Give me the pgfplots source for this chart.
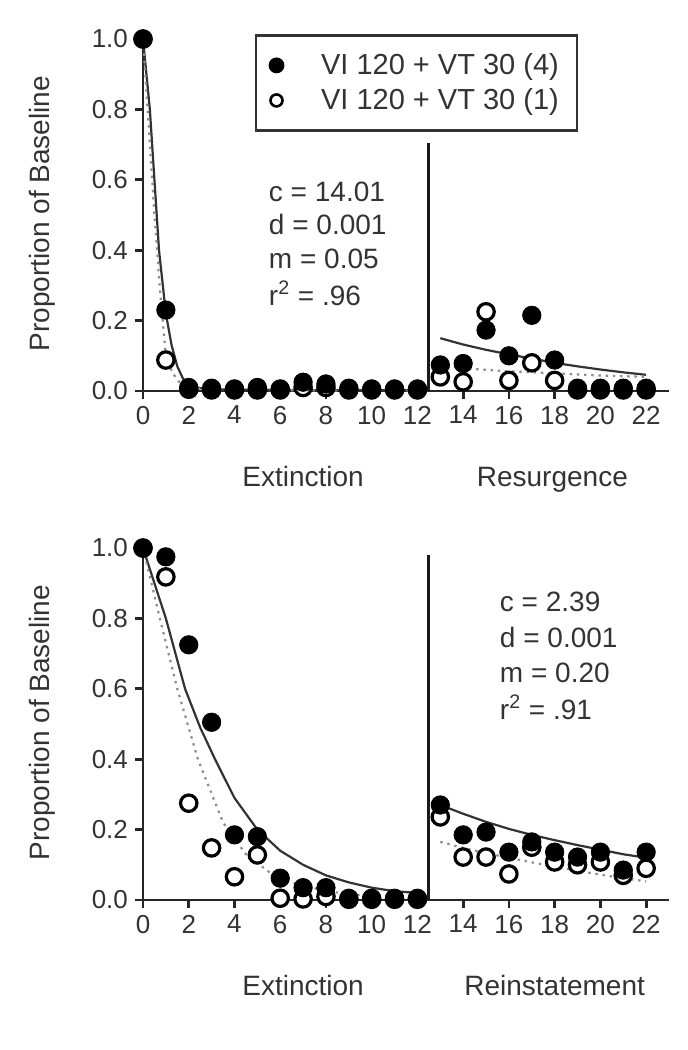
\documentclass[border=0pt]{standalone}
\usepackage{fontspec}
\setmainfont{Liberation Sans}
\usepackage{pgfplots}
\pgfplotsset{compat=1.18}

\tikzset{lab/.style={font=\fontsize{14}{17}\selectfont, text=black!80}}
\pgfplotsset{
 panel/.style={
  scale only axis, width=263pt, height=179.5pt,
  xmin=0, xmax=23, ymin=0, ymax=1.02,
  axis lines=left, axis line style={-, line width=1.4pt, black!85},
  xtick={0,2,...,22}, ytick={0,0.2,0.4,0.6,0.8,1.0},
  tick align=outside, major tick length=4pt,
  tick style={line width=1.4pt, black!85},
  /pgf/number format/assume math mode=true,
  yticklabel style={/pgf/number format/fixed, /pgf/number format/fixed zerofill, /pgf/number format/precision=1},
  ticklabel style={font=\fontsize{13}{15}\selectfont, text=black!80},
  clip=false,
 },
 filled/.style={only marks, mark=*, mark size=4.6pt, mark options={fill=black, draw=black, line width=0.4pt}},
 opened/.style={only marks, mark=*, mark size=4.1pt, mark options={fill=white, draw=black, line width=1.6pt}},
 fitA/.style={no marks, line width=1.1pt, black!80},
 fitB/.style={no marks, line width=1.1pt, black!45, dash pattern=on 1.2pt off 2.4pt},
 vline/.style={no marks, line width=1.4pt, black!90},
}

\begin{document}
\begin{tikzpicture}
\path[use as bounding box] (0,0) rectangle (344pt,525pt);

% ---------------- top panel ----------------
\begin{axis}[panel, at={(71.5pt,329.5pt)}, anchor=south west,
  legend style={at={(axis cs:4.88,1.014)}, anchor=north west, draw=black!80, line width=1.3pt,
    font=\fontsize{14.5}{16}\selectfont, text=black!80, inner xsep=7pt, inner ysep=7pt,
    row sep=1.5pt, column sep=17pt, cells={anchor=west}}]
\addplot[fitA, forget plot] coordinates {(0,1.0) (0.3,0.8) (0.5,0.6) (0.7,0.4) (1,0.22) (1.25,0.13) (1.5,0.07) (1.75,0.035) (2,0.018) (2.5,0.008) (3,0.005) (4,0.004) (6,0.003) (8,0.002) (10,0.002) (12.4,0.002)};
\addplot[fitB, forget plot] coordinates {(0,1.0) (0.25,0.75) (0.5,0.5) (0.75,0.28) (1,0.1) (1.3,0.05) (1.6,0.025) (2,0.01) (3,0.004) (6,0.002) (12.4,0.001)};
\addplot[fitA, forget plot] coordinates {(13,0.15) (14,0.132) (15,0.117) (16,0.104) (17,0.092) (18,0.08) (19,0.07) (20,0.061) (21,0.053) (22,0.046)};
\addplot[fitB, forget plot] coordinates {(13,0.07) (14,0.065) (15,0.06) (16,0.056) (17,0.053) (18,0.05) (19,0.047) (20,0.044) (21,0.042) (22,0.04)};
\addplot[vline, forget plot] coordinates {(12.5,0) (12.5,0.705)};
\addplot[opened, forget plot] coordinates {(0,1.0) (1,0.088) (2,0.005) (3,0.003) (4,0.003) (5,0.003) (6,0.003) (7,0.01) (8,0.01) (9,0.003) (10,0.003) (11,0.003) (12,0.003) (13,0.04) (14,0.026) (15,0.225) (16,0.03) (17,0.08) (18,0.03) (19,0.003) (20,0.003) (21,0.003) (22,0.003)};
\addplot[filled, forget plot] coordinates {(0,1.0) (1,0.23) (2,0.01) (3,0.008) (4,0.006) (5,0.01) (6,0.006) (7,0.025) (8,0.02) (9,0.008) (10,0.006) (11,0.006) (12,0.006) (13,0.074) (14,0.078) (15,0.173) (16,0.10) (17,0.215) (18,0.088) (19,0.008) (20,0.008) (21,0.008) (22,0.008)};
\addlegendimage{only marks, mark=*, mark size=3.3pt, mark options={fill=black, draw=black}}
\addlegendentry{VI 120 + VT 30 (4)}
\addlegendimage{only marks, mark=*, mark size=3.0pt, mark options={fill=white, draw=black, line width=1.3pt}}
\addlegendentry{VI 120 + VT 30 (1)}
\node[lab, anchor=west] at (axis cs:5.2,0.565) {c = 14.01};
\node[lab, anchor=west] at (axis cs:5.2,0.472) {d = 0.001};
\node[lab, anchor=west] at (axis cs:5.2,0.375) {m = 0.05};
\node[lab, anchor=west] at (axis cs:5.2,0.278) {r\textsuperscript{2} = .96};
\node[lab, anchor=base] at (axis cs:7,-0.272) {Extinction};
\node[lab, anchor=base] at (axis cs:17.9,-0.272) {Resurgence};
\node[lab, rotate=90] at (axis cs:-4.42,0.504) {Proportion of Baseline};
\end{axis}

% ---------------- bottom panel ----------------
\begin{axis}[panel, at={(71.5pt,75pt)}, anchor=south west]
\addplot[fitA] coordinates {(0,1.0) (0.5,0.9) (1,0.8) (1.84,0.6) (2.5,0.49) (3.15,0.4) (4,0.29) (5,0.2) (6,0.14) (7,0.1) (8,0.07) (9,0.05) (10,0.035) (11,0.025) (12,0.02)};
\addplot[fitB] coordinates {(0,1.0) (0.74,0.8) (1.5,0.6) (2.4,0.4) (3.5,0.22) (4.5,0.13) (5.5,0.08) (6.5,0.05) (8,0.025) (10,0.01) (12,0.005)};
\addplot[fitA] coordinates {(13,0.27) (14,0.245) (15,0.222) (16,0.202) (17,0.185) (18,0.17) (19,0.156) (20,0.143) (21,0.13) (22,0.12)};
\addplot[fitB] coordinates {(13,0.165) (14,0.148) (15,0.133) (16,0.12) (17,0.107) (18,0.095) (19,0.083) (20,0.072) (21,0.062) (22,0.053)};
\addplot[vline] coordinates {(12.5,0) (12.5,0.98)};
\addplot[opened] coordinates {(0,1.0) (1,0.918) (2,0.275) (3,0.148) (4,0.066) (5,0.128) (6,0.005) (7,0.003) (8,0.01) (9,0.002) (10,0.002) (11,0.002) (12,0.002) (13,0.236) (14,0.122) (15,0.122) (16,0.074) (17,0.15) (18,0.108) (19,0.10) (20,0.108) (21,0.07) (22,0.09)};
\addplot[filled] coordinates {(0,1.0) (1,0.975) (2,0.725) (3,0.505) (4,0.185) (5,0.18) (6,0.062) (7,0.035) (8,0.035) (9,0.005) (10,0.005) (11,0.005) (12,0.005) (13,0.27) (14,0.185) (15,0.193) (16,0.136) (17,0.165) (18,0.136) (19,0.122) (20,0.136) (21,0.085) (22,0.136)};
\node[lab, anchor=west] at (axis cs:15.3,0.846) {c = 2.39};
\node[lab, anchor=west] at (axis cs:15.3,0.745) {d = 0.001};
\node[lab, anchor=west] at (axis cs:15.3,0.644) {m = 0.20};
\node[lab, anchor=west] at (axis cs:15.3,0.548) {r\textsuperscript{2} = .91};
\node[lab, anchor=base] at (axis cs:7,-0.272) {Extinction};
\node[lab, anchor=base] at (axis cs:18.0,-0.272) {Reinstatement};
\node[lab, rotate=90] at (axis cs:-4.42,0.504) {Proportion of Baseline};
\end{axis}
\end{tikzpicture}
\end{document}
